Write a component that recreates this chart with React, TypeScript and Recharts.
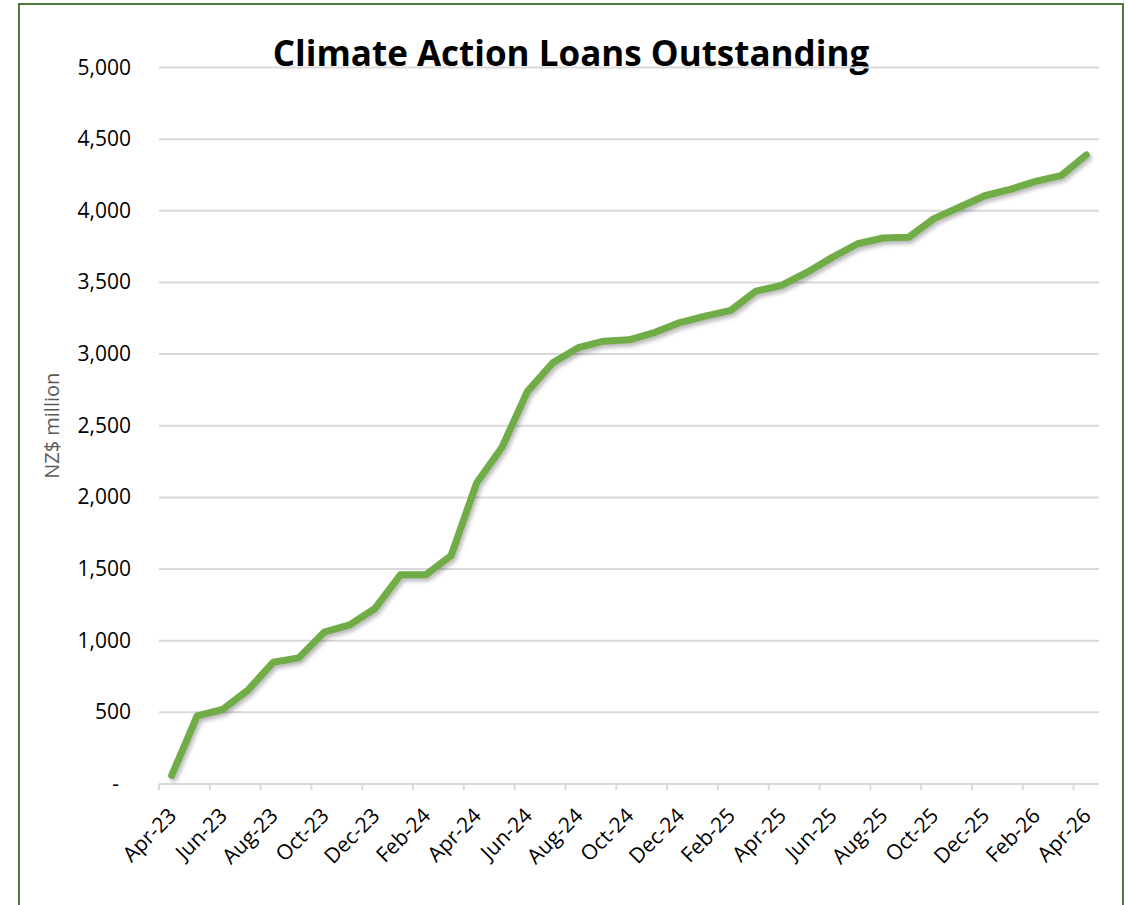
import { LineChart, Line, XAxis, YAxis, CartesianGrid } from 'recharts';

const months = [
  'Apr-23', 'May-23', 'Jun-23', 'Jul-23', 'Aug-23', 'Sep-23', 'Oct-23', 'Nov-23', 'Dec-23',
  'Jan-24', 'Feb-24', 'Mar-24', 'Apr-24', 'May-24', 'Jun-24', 'Jul-24', 'Aug-24', 'Sep-24',
  'Oct-24', 'Nov-24', 'Dec-24', 'Jan-25', 'Feb-25', 'Mar-25', 'Apr-25', 'May-25', 'Jun-25',
  'Jul-25', 'Aug-25', 'Sep-25', 'Oct-25', 'Nov-25', 'Dec-25', 'Jan-26', 'Feb-26', 'Mar-26',
  'Apr-26',
];

const loans = [
  60, 475, 520, 655, 850, 880, 1060, 1110, 1225,
  1460, 1460, 1595, 2100, 2350, 2740, 2940, 3045, 3090,
  3100, 3150, 3220, 3265, 3305, 3440, 3480, 3570, 3675,
  3770, 3810, 3815, 3945, 4025, 4105, 4150, 4205, 4245,
  4390,
];

const yTicks = [0, 500, 1000, 1500, 2000, 2500, 3000, 3500, 4000, 4500, 5000];

const data = months.map((m, i) => ({ month: m, value: loans[i] }));

const W = 1130;
const H = 905;
const PLOT_LEFT = 159;
const PLOT_RIGHT = 1099;
const HALF = (PLOT_RIGHT - PLOT_LEFT) / months.length / 2;

const fmt = (v: number) => (v === 0 ? '-' : v.toLocaleString('en-US'));

function MonthTick(props: any) {
  const { x, y, payload } = props;
  return (
    <g>
      <line x1={x - HALF} x2={x - HALF} y1={y - 6} y2={y} stroke="#d9d9d9" strokeWidth={2} />
      <text
        x={x + 6}
        y={y + 27}
        transform={`rotate(-45 ${x + 6} ${y + 27})`}
        textAnchor="end"
        fontSize={21}
        fill="#000"
      >
        {payload.value}
      </text>
    </g>
  );
}

function YTick(props: any) {
  const { x, y, payload } = props;
  const isZero = payload.value === 0;
  return (
    <text x={isZero ? x - 12 : x} y={y} dy={7} textAnchor="end" fontSize={21} fill="#000">
      {fmt(payload.value)}
    </text>
  );
}

export default function App() {
  return (
    <div
      style={{
        position: 'absolute',
        left: 0,
        top: 0,
        width: W,
        height: H,
        overflow: 'hidden',
        background: '#fff',
        fontFamily: '"Open Sans", sans-serif',
      }}
    >
      <div
        style={{
          position: 'absolute',
          left: 18,
          top: 3,
          width: 1102,
          height: 960,
          border: '2px solid #4f7a3a',
        }}
      />
      <div
        style={{
          position: 'absolute',
          left: 0,
          width: 1142,
          top: 30,
          textAlign: 'center',
          fontSize: 35,
          fontWeight: 700,
          color: '#000',
          lineHeight: '46px',
        }}
      >
        Climate Action Loans Outstanding
      </div>
      <div style={{ position: 'absolute', left: 0, top: 0 }}>
        <LineChart
          width={W}
          height={H}
          data={data}
          margin={{ top: 67.5, right: W - PLOT_RIGHT, bottom: 0, left: 40 }}
        >
          <CartesianGrid vertical={false} stroke="#d9d9d9" strokeWidth={2} />
          <XAxis
            dataKey="month"
            interval={1}
            padding={{ left: HALF, right: HALF }}
            axisLine={{ stroke: '#d9d9d9', strokeWidth: 2 }}
            tickLine={false}
            tickSize={6}
            tickMargin={0}
            tick={<MonthTick />}
            height={H - 784}
          />
          <YAxis
            domain={[0, 5000]}
            ticks={yTicks}
            width={PLOT_LEFT - 40}
            axisLine={false}
            tickLine={false}
            tickSize={6}
            tickMargin={22}
            tick={<YTick />}
            label={{
              value: 'NZ$ million',
              angle: -90,
              position: 'insideLeft',
              offset: 12,
              style: { textAnchor: 'middle', fill: '#595959', fontSize: 20 },
            }}
          />
          <Line
            type="linear"
            dataKey="value"
            stroke="#70ad47"
            strokeWidth={7}
            strokeLinecap="round"
            strokeLinejoin="round"
            dot={false}
            activeDot={false}
            isAnimationActive={false}
            style={{ filter: 'drop-shadow(2px 3px 2px rgba(0,0,0,0.28))' }}
          />
        </LineChart>
      </div>
    </div>
  );
}
